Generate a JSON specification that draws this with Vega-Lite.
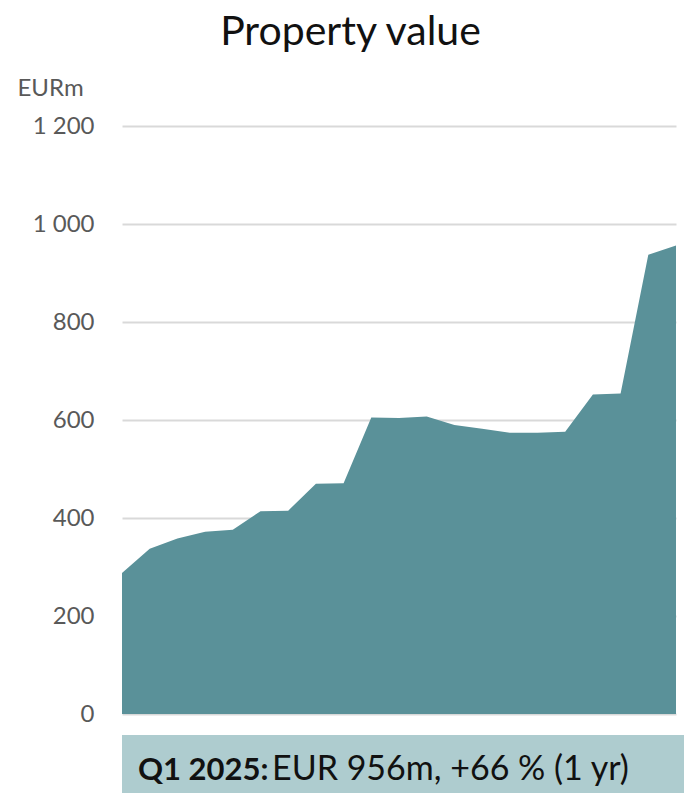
{
  "$schema": "https://vega.github.io/schema/vega-lite/v6.json",
  "padding": {"left": 17, "top": 12, "right": 0, "bottom": 0},
  "background": "white",
  "title": {"text": "Property value", "font": "Lato", "fontSize": 41, "fontWeight": "normal", "color": "#111111", "anchor": "middle", "frame": "bounds", "offset": 22},
  "config": {"view": {"stroke": null}, "font": "Lato", "concat": {"spacing": 21}},
  "bounds": "flush",
  "spacing": 21,
  "vconcat": [
    {
      "width": 554,
      "height": 588,
      "data": {"values": [
        {"quarter": "Q1 2020", "value": 288},
        {"quarter": "Q2 2020", "value": 337},
        {"quarter": "Q3 2020", "value": 358},
        {"quarter": "Q4 2020", "value": 372},
        {"quarter": "Q1 2021", "value": 376},
        {"quarter": "Q2 2021", "value": 414},
        {"quarter": "Q3 2021", "value": 415},
        {"quarter": "Q4 2021", "value": 470},
        {"quarter": "Q1 2022", "value": 471},
        {"quarter": "Q2 2022", "value": 605},
        {"quarter": "Q3 2022", "value": 604},
        {"quarter": "Q4 2022", "value": 607},
        {"quarter": "Q1 2023", "value": 590},
        {"quarter": "Q2 2023", "value": 582},
        {"quarter": "Q3 2023", "value": 574},
        {"quarter": "Q4 2023", "value": 574},
        {"quarter": "Q1 2024", "value": 576},
        {"quarter": "Q2 2024", "value": 652},
        {"quarter": "Q3 2024", "value": 654},
        {"quarter": "Q4 2024", "value": 937},
        {"quarter": "Q1 2025", "value": 956}
      ]},
      "mark": {"type": "area", "color": "#5a9199", "opacity": 1},
      "encoding": {
        "x": {"field": "quarter", "type": "ordinal", "sort": null, "scale": {"type": "point", "padding": 0}, "axis": null},
        "y": {
          "field": "value", "type": "quantitative",
          "scale": {"domain": [0, 1200], "nice": false},
          "axis": {
            "values": [0, 200, 400, 600, 800, 1000, 1200],
            "labelExpr": "replace(format(datum.value, ','), ',', ' ')",
            "domain": false, "ticks": false,
            "labelPadding": 28, "labelFontSize": 24, "labelColor": "#595959", "labelFont": "Lato",
            "grid": true, "gridColor": "#d9d9d9", "gridWidth": 2,
            "title": "EURm", "titleAngle": 0, "titleAlign": "left", "titleBaseline": "alphabetic",
            "titleX": -105, "titleY": -31, "titleFontSize": 24, "titleFontWeight": "normal", "titleColor": "#595959", "titleFont": "Lato"
          }
        }
      }
    },
    {
      "width": 562,
      "height": 58,
      "view": {"fill": "#aecccf", "stroke": null},
      "data": {"values": [{"head": "Q1 2025:", "body": "EUR 956m, +66 % (1 yr)"}]},
      "layer": [
        {
          "mark": {"type": "text", "align": "left", "baseline": "alphabetic", "dx": -265, "dy": 16, "fontSize": 31, "fontWeight": "bold", "font": "Lato", "color": "#111111"},
          "encoding": {"text": {"field": "head"}}
        },
        {
          "mark": {"type": "text", "align": "left", "baseline": "alphabetic", "dx": -131, "dy": 16, "fontSize": 34, "fontWeight": "normal", "font": "Lato", "color": "#111111"},
          "encoding": {"text": {"field": "body"}}
        }
      ]
    }
  ]
}
